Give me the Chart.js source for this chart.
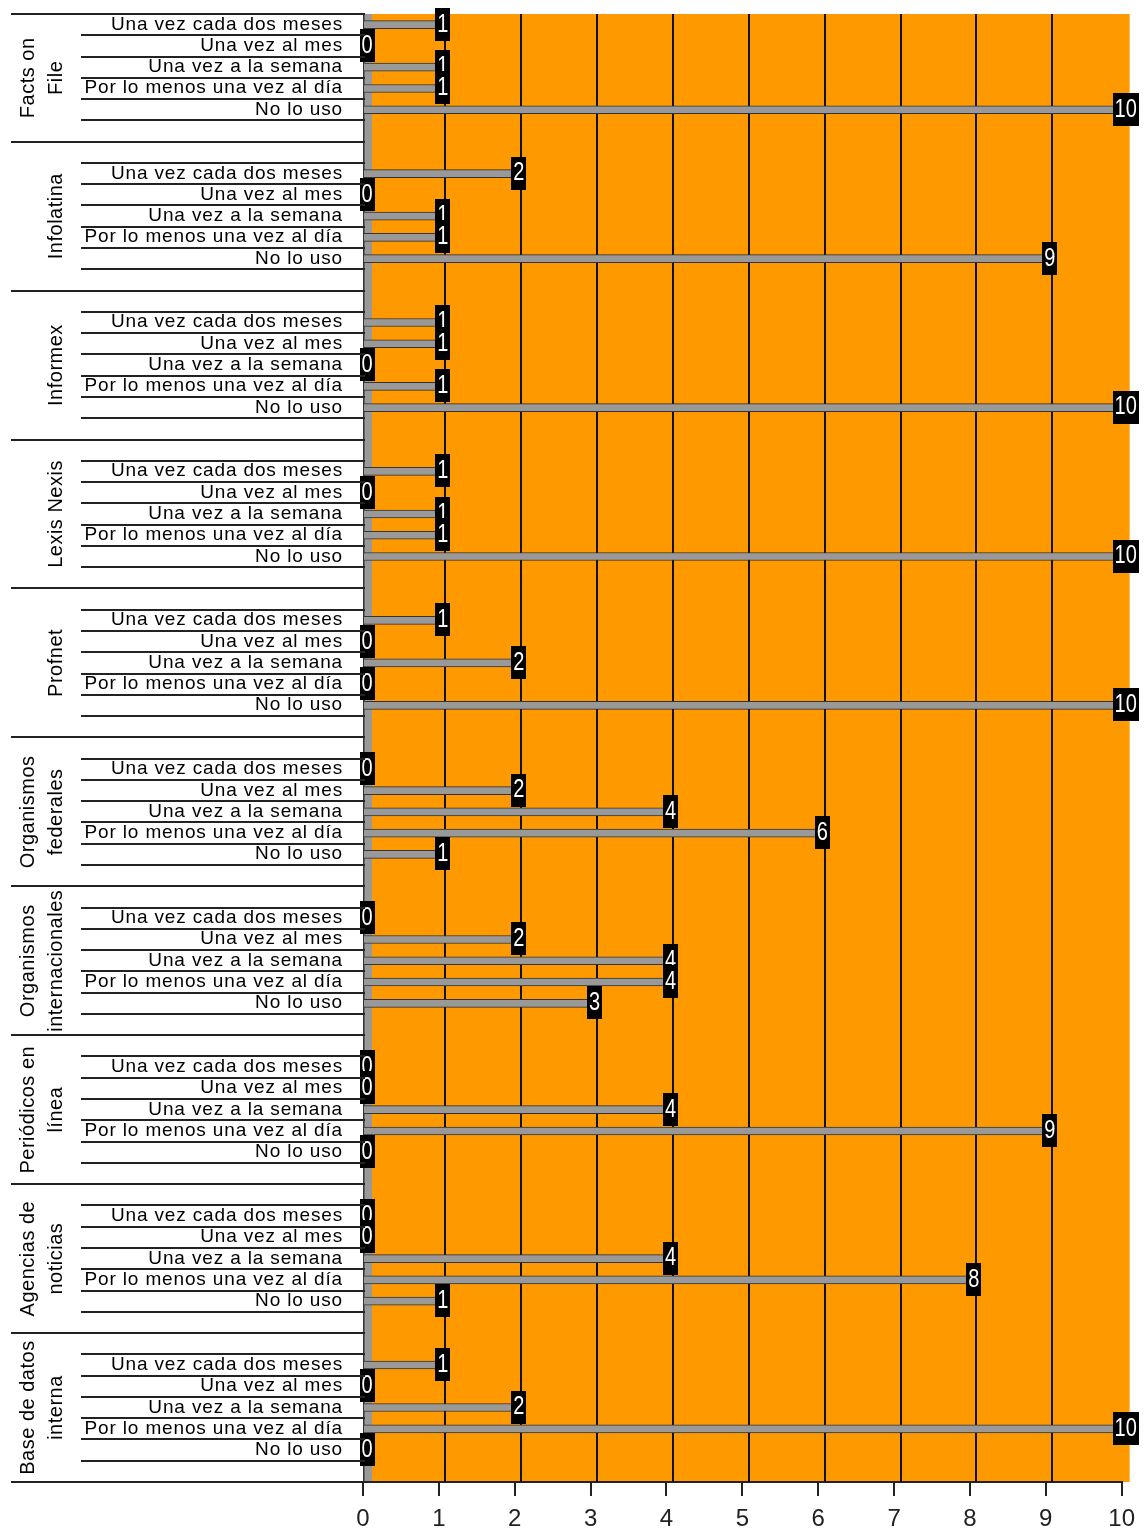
<!DOCTYPE html>
<html>
<head>
<meta charset="utf-8">
<script src="https://cdn.jsdelivr.net/npm/chart.js@4/dist/chart.umd.min.js"></script>
<style>
  html, body { margin: 0; padding: 0; background: #ffffff; }
  #wrap { width: 1144px; height: 1535px; }
</style>
</head>
<body>
<div id="wrap"><canvas id="c" width="1144" height="1535"></canvas></div>
<script>
// ---- data ----
const groupLabels = [
  ['Facts on', 'File'],
  ['Infolatina'],
  ['Informex'],
  ['Lexis Nexis'],
  ['Profnet'],
  ['Organismos', 'federales'],
  ['Organismos', 'internacionales'],
  ['Periódicos en', 'línea'],
  ['Agencias de', 'noticias'],
  ['Base de datos', 'interna']
];
const frequencies = [
  'Una vez cada dos meses',
  'Una vez al mes',
  'Una vez a la semana',
  'Por lo menos una vez al día',
  'No lo uso'
];
const valCadaDosMeses = [1, 2, 1, 1, 1, 0, 0, 0, 0, 1];
const valAlMes        = [0, 0, 1, 0, 0, 2, 2, 0, 0, 0];
const valSemana       = [1, 1, 0, 1, 2, 4, 4, 4, 4, 2];
const valDia          = [1, 1, 1, 1, 0, 6, 4, 9, 8, 10];
const valNoLoUso      = [10, 9, 10, 10, 10, 1, 3, 0, 1, 0];
const xTicks = [0, 1, 2, 3, 4, 5, 6, 7, 8, 9, 10];

// ---- build slots (blank row before and after each group; first blank is cut off) ----
const seriesByCat = [valCadaDosMeses, valAlMes, valSemana, valDia, valNoLoUso];
const labels = [], values = [], slotGroup = [], slotCat = [];
groupLabels.forEach((g, gi) => {
  if (gi > 0) { labels.push(''); values.push(null); slotGroup.push(gi); slotCat.push(-1); }
  frequencies.forEach((f, ci) => {
    labels.push(f); values.push(seriesByCat[ci][gi]); slotGroup.push(gi); slotCat.push(ci);
  });
  labels.push(''); values.push(null); slotGroup.push(gi); slotCat.push(-2);
});

const SANS = '"Liberation Sans", Arial, sans-serif';

const decor = {
  id: 'decor',
  beforeDraw(chart) {
    const { ctx, chartArea: a, scales: { x } } = chart;
    ctx.save();
    const x0 = x.getPixelForValue(0);
    const x10 = x.getPixelForValue(10);
    // back wall
    ctx.fillStyle = '#FF9900';
    ctx.fillRect(x0 + 8, a.top, (x10 + 8) - (x0 + 8), a.bottom - a.top);
    // side wall at zero
    ctx.fillStyle = '#999999';
    ctx.fillRect(x0 + 1, a.top, 8, a.bottom - a.top);
    ctx.fillStyle = '#333333';
    ctx.fillRect(x0, a.top, 1.5, a.bottom - a.top);
    ctx.restore();
  },
  beforeDatasetsDraw(chart) {
    const { ctx, chartArea: a, scales: { x } } = chart;
    ctx.save();
    ctx.strokeStyle = '#111111';
    ctx.lineWidth = 2;
    for (let k = 1; k <= 9; k++) {
      const px = Math.round(x.getPixelForValue(k) + 6.5);
      ctx.beginPath();
      ctx.moveTo(px, a.top);
      ctx.lineTo(px, a.bottom);
      ctx.stroke();
    }
    ctx.restore();
  },
  afterDatasetsDraw(chart) {
    const { ctx } = chart;
    const meta = chart.getDatasetMeta(0);
    const sx = 0.8;
    ctx.save();
    ctx.font = '25px ' + SANS;
    ctx.textAlign = 'center';
    ctx.textBaseline = 'middle';
    meta.data.forEach((el, i) => {
      const v = values[i];
      if (v === null || v === undefined) return;
      const t = String(v);
      const w = ctx.measureText(t).width * sx;
      const bw = Math.round(w + 4);
      const cx = el.x + 4;
      const cy = el.y - 1;
      ctx.fillStyle = '#000000';
      ctx.fillRect(Math.round(cx - bw / 2), Math.round(cy - 16), bw, 33);
      ctx.fillStyle = '#ffffff';
      ctx.save();
      ctx.translate(cx, cy + 1);
      ctx.scale(sx, 1);
      ctx.fillText(t, 0, 0);
      ctx.restore();
    });
    ctx.restore();
  },
  afterDraw(chart) {
    const { ctx, chartArea: a, scales: { y } } = chart;
    const n = labels.length;
    const slotH = (a.bottom - a.top) / n;
    const top = i => a.top + i * slotH;
    const lineRight = a.left + 2;
    ctx.save();
    ctx.strokeStyle = '#222222';
    ctx.lineWidth = 2;
    const hline = (yy, x1) => {
      const py = Math.round(yy);
      ctx.beginPath(); ctx.moveTo(x1, py); ctx.lineTo(lineRight, py); ctx.stroke();
    };
    // category labels and row lines
    ctx.fillStyle = '#000000';
    ctx.font = '19px ' + SANS;
    ctx.letterSpacing = '0.85px';
    ctx.textAlign = 'right';
    ctx.textBaseline = 'alphabetic';
    for (let i = 0; i < n; i++) {
      if (slotCat[i] >= 0) {
        hline(top(i), 81);
        hline(top(i + 1), 81);
        const cy = y.getPixelForValue(i);
        ctx.fillText(labels[i], 343, cy + 5);
      }
    }
    // group boundaries and group labels
    ctx.font = '20px ' + SANS;
    ctx.letterSpacing = '0.5px';
    ctx.textAlign = 'center';
    groupLabels.forEach((g, gi) => {
      let first = -1, last = -1;
      for (let i = 0; i < n; i++) if (slotGroup[i] === gi) { if (first < 0) first = i; last = i; }
      const y1 = top(first), y2 = top(last + 1);
      hline(y1, 11);
      hline(y2, 11);
      const cy = (y1 + y2) / 2;
      const xs = g.length === 2 ? [34, 62] : [62];
      g.forEach((line, li) => {
        ctx.save();
        ctx.translate(xs[li], cy);
        ctx.rotate(-Math.PI / 2);
        ctx.fillText(line, 0, 0);
        ctx.restore();
      });
    });
    ctx.restore();
  }
};

new Chart(document.getElementById('c'), {
  type: 'bar',
  data: {
    labels: labels,
    datasets: [{
      data: values,
      backgroundColor: '#999999',
      borderColor: '#333333',
      borderWidth: 1,
      barThickness: 8
    }]
  },
  options: {
    indexAxis: 'y',
    responsive: false,
    animation: false,
    layout: { padding: { left: 363, right: 20, top: 14, bottom: 0 } },
    plugins: { legend: { display: false }, tooltip: { enabled: false } },
    scales: {
      x: {
        type: 'linear',
        min: 0,
        max: 10,
        afterBuildTicks(s) { s.ticks = xTicks.map(v => ({ value: v })); },
        afterFit(s) { s.height = 53; },
        ticks: { color: '#222222', font: { family: SANS, size: 24 }, padding: 9, maxRotation: 0 },
        grid: { drawOnChartArea: false, drawTicks: true, tickLength: 14, tickColor: '#222222', lineWidth: 2, tickWidth: 2 },
        border: { display: true, color: '#222222', width: 2 }
      },
      y: {
        type: 'category',
        display: false,
        offset: true
      }
    }
  },
  plugins: [decor]
});
</script>
</body>
</html>
